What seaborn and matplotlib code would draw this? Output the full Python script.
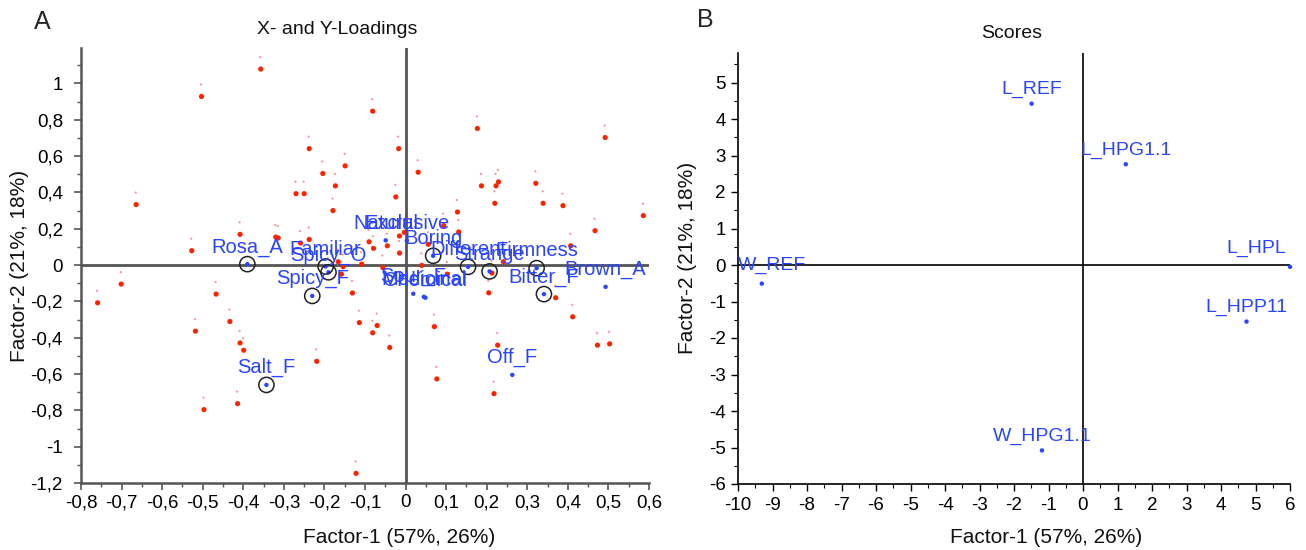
import numpy as np
import pandas as pd
import matplotlib
matplotlib.use("Agg")
import matplotlib.pyplot as plt
import seaborn as sns
from matplotlib.ticker import MultipleLocator, FuncFormatter
from matplotlib.transforms import offset_copy

# ---------------- data ----------------
# X-loadings (red dots), Factor-1 / Factor-2
xload_f1 = [-0.357, -0.503, -0.081, 0.177, 0.492, -0.017, -0.2375, -0.149, 0.031, -0.204,
            -0.173, 0.187, 0.223, 0.229, 0.321, -0.270, -0.250, -0.024, 0.220, 0.339,
            -0.664, 0.388, -0.179, 0.128, 0.586, 0.094, 0.467, 0.131, -0.003, -0.408,
            -0.015, -0.320, -0.314, -0.2375, -0.090, -0.259, 0.056, -0.045, 0.407, -0.079,
            -0.527, -0.015, -0.166, 0.241, -0.108, 0.040, -0.154, -0.056, 0.213, -0.158,
            0.103, -0.701, -0.131, -0.467, 0.205, 0.370, -0.759, 0.412, -0.433, -0.114,
            -0.070, 0.071, -0.518, -0.081, -0.408, 0.227, 0.473, 0.503, -0.039, -0.399,
            -0.219, 0.077, 0.218, -0.414, -0.497, -0.122]
xload_f2 = [1.079, 0.928, 0.847, 0.752, 0.702, 0.641, 0.641, 0.546, 0.511, 0.504,
            0.436, 0.436, 0.436, 0.458, 0.450, 0.393, 0.393, 0.375, 0.340, 0.340,
            0.333, 0.327, 0.300, 0.292, 0.272, 0.217, 0.189, 0.182, 0.180, 0.169,
            0.160, 0.154, 0.149, 0.141, 0.128, 0.121, 0.114, 0.106, 0.106, 0.092,
            0.079, 0.066, 0.018, 0.018, 0.005, -0.002, -0.009, -0.014, -0.044, -0.050,
            -0.050, -0.105, -0.154, -0.160, -0.153, -0.180, -0.208, -0.285, -0.311, -0.317,
            -0.333, -0.339, -0.364, -0.373, -0.429, -0.441, -0.441, -0.434, -0.454, -0.469,
            -0.530, -0.627, -0.708, -0.763, -0.796, -1.147]

# Y-loadings (blue, labelled)
yload_names = ["Rosa_A", "Familiar", "Spicy_O", "Spicy_F", "Salt_F", "Natural", "Exclusive",
               "Boring", "Different", "Strange", "Firmness", "Bitter_F", "Brown_A", "Off_F",
               "Sour_F", "Chemical", "Medicinal"]
yload_f1 = [-0.390, -0.197, -0.190, -0.230, -0.343, -0.049, 0.003,
            0.068, 0.154, 0.207, 0.323, 0.341, 0.493, 0.263,
            0.019, 0.049, 0.045]
yload_f2 = [0.005, -0.008, -0.040, -0.170, -0.660, 0.136, 0.134,
            0.051, -0.010, -0.035, -0.017, -0.160, -0.120, -0.605,
            -0.158, -0.180, -0.175]
yload_marked = [True, True, True, True, True, False, False,
                True, True, True, True, True, False, False,
                False, False, False]

# Scores
score_names = ["L_REF", "L_HPG1.1", "L_HPL", "L_HPP11", "W_REF", "W_HPG1.1"]
score_f1 = [-1.49, 1.24, 6.0, 4.74, -9.31, -1.19]
score_f2 = [4.42, 2.76, -0.05, -1.55, -0.51, -5.08]

# ---------------- style ----------------
sns.set_theme(style="ticks")
plt.rcParams['font.family'] = ['Liberation Sans', 'DejaVu Sans']
plt.rcParams['axes.linewidth'] = 1.0

RED = "#ff2200"
BLUE = "#2a44ff"

fig = plt.figure(figsize=(13.06, 5.5), dpi=100)
axA = fig.add_axes([81 / 1306, 1 - 483 / 550, 568 / 1306, 435 / 550])
axB = fig.add_axes([738 / 1306, 1 - 484 / 550, 552 / 1306, 430.7 / 550])


def comma_fmt(v, pos):
    s = f"{round(v, 2):g}"
    if s == "-0":
        s = "0"
    return s.replace(".", ",")


def int_fmt(v, pos):
    s = f"{round(v):d}"
    return "0" if s == "-0" else s


# ---------------- panel A ----------------
dfx = pd.DataFrame({"f1": xload_f1, "f2": xload_f2})
dfy = pd.DataFrame({"name": yload_names, "f1": yload_f1, "f2": yload_f2, "marked": yload_marked})

axA.set_xlim(-0.8, 0.6)
axA.set_ylim(-1.2, 1.195)
axA.axhline(0, color="#555555", lw=2.0, zorder=1)
axA.axvline(0, color="#555555", lw=2.0, zorder=1)

# faint marks above each red dot
faint = offset_copy(axA.transData, fig=fig, x=-0.5, y=12, units="dots")
axA.scatter(dfx["f1"], dfx["f2"], s=2.5, color="#ff9090", edgecolors="none",
            transform=faint, zorder=2)
sns.scatterplot(data=dfx, x="f1", y="f2", ax=axA, color=RED, s=14,
                edgecolor="none", linewidth=0, zorder=3, legend=False)
sns.scatterplot(data=dfy, x="f1", y="f2", ax=axA, color=BLUE, s=10,
                edgecolor="none", linewidth=0, zorder=4, legend=False)
mk = dfy[dfy["marked"]]
axA.scatter(mk["f1"], mk["f2"], s=120, facecolors="none", edgecolors="#222222",
            linewidths=1.1, zorder=5)
for n, x, y in zip(dfy["name"], dfy["f1"], dfy["f2"]):
    axA.annotate(n, (x, y), xytext=(0, 8.5), textcoords="offset points",
                 ha="center", va="baseline", color=BLUE, fontsize=14.5, zorder=6)

axA.xaxis.set_major_locator(MultipleLocator(0.1))
axA.xaxis.set_minor_locator(MultipleLocator(0.05))
axA.yaxis.set_major_locator(MultipleLocator(0.2))
axA.yaxis.set_minor_locator(MultipleLocator(0.1))
axA.xaxis.set_major_formatter(FuncFormatter(comma_fmt))
axA.yaxis.set_major_formatter(FuncFormatter(comma_fmt))
for sp in ["top", "right"]:
    axA.spines[sp].set_visible(False)
for sp in ["left", "bottom"]:
    axA.spines[sp].set_color("#555555")
    axA.spines[sp].set_linewidth(1.8)
axA.tick_params(which="major", direction="out", length=5, width=1.2, color="#555555",
                labelsize=13.5, labelcolor="black")
axA.tick_params(which="minor", direction="out", length=3, width=1.0, color="#555555")
axA.tick_params(axis="y", which="major", pad=8)
axA.tick_params(axis="x", which="major", pad=3)
axA.set_xlabel("Factor-1 (57%, 26%)", fontsize=15, color="#111111")
axA.set_ylabel("Factor-2 (21%, 18%)", fontsize=15, color="#111111")
axA.xaxis.set_label_coords(0.56, -0.103)
axA.yaxis.set_label_coords(-0.092, 0.50)

# ---------------- panel B ----------------
dfs = pd.DataFrame({"name": score_names, "f1": score_f1, "f2": score_f2})
axB.set_xlim(-10, 6)
axB.set_ylim(-6, 5.8)
axB.axhline(0, color="black", lw=1.2, zorder=1)
axB.axvline(0, color="black", lw=1.2, zorder=1)
sns.scatterplot(data=dfs, x="f1", y="f2", ax=axB, color=BLUE, s=10,
                edgecolor="none", linewidth=0, zorder=4, legend=False, clip_on=False)
xl = axB.get_xlim()
for n, x, y in zip(dfs["name"], dfs["f1"], dfs["f2"]):
    if x - xl[0] < 1.0:
        axB.annotate(n, (xl[0], y), xytext=(0, 10), textcoords="offset points",
                     ha="left", va="baseline", color=BLUE, fontsize=14)
    elif xl[1] - x < 1.0:
        axB.annotate(n, (xl[1], y), xytext=(-3, 10), textcoords="offset points",
                     ha="right", va="baseline", color=BLUE, fontsize=14)
    else:
        axB.annotate(n, (x, y), xytext=(0, 7), textcoords="offset points",
                     ha="center", va="baseline", color=BLUE, fontsize=14)

axB.xaxis.set_major_locator(MultipleLocator(1))
axB.xaxis.set_minor_locator(MultipleLocator(0.5))
axB.yaxis.set_major_locator(MultipleLocator(1))
axB.yaxis.set_minor_locator(MultipleLocator(0.5))
axB.xaxis.set_major_formatter(FuncFormatter(int_fmt))
axB.yaxis.set_major_formatter(FuncFormatter(int_fmt))
for sp in ["top", "right"]:
    axB.spines[sp].set_visible(False)
for sp in ["left", "bottom"]:
    axB.spines[sp].set_color("black")
    axB.spines[sp].set_linewidth(1.2)
axB.tick_params(which="major", direction="out", length=5, width=1.0, color="black",
                labelsize=13.5, labelcolor="black", pad=4)
axB.tick_params(which="minor", direction="out", length=3, width=0.8, color="black")
axB.set_xlabel("Factor-1 (57%, 26%)", fontsize=15, color="#111111")
axB.set_ylabel("Factor-2 (21%, 18%)", fontsize=15, color="#111111")
axB.xaxis.set_label_coords(0.558, -0.102)
axB.yaxis.set_label_coords(-0.074, 0.525)

# ---------------- titles & panel letters ----------------
fig.text(337 / 1306, 1 - 30 / 550, "X- and Y-Loadings", ha="center", va="center",
         fontsize=14, color="#111111")
fig.text(1012 / 1306, 1 - 33 / 550, "Scores", ha="center", va="center",
         fontsize=14, color="#111111")
fig.text(42 / 1306, 1 - 22 / 550, "A", ha="center", va="center", fontsize=18)
fig.text(705 / 1306, 1 - 20 / 550, "B", ha="center", va="center", fontsize=18)

fig.savefig("out.png", dpi=100, facecolor="white")
